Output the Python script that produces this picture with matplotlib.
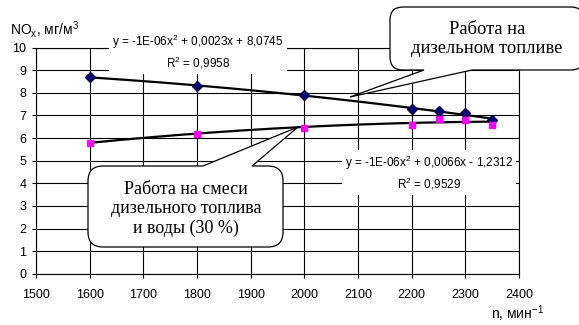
import numpy as np
import matplotlib
matplotlib.use("Agg")
import matplotlib.pyplot as plt
from matplotlib.path import Path
from matplotlib.patches import PathPatch

plt.rcParams['font.family'] = ['Liberation Sans', 'DejaVu Sans']
plt.rcParams['mathtext.default'] = 'regular'

# частота вращения и выбросы NOx
rpm = [1600, 1800, 2000, 2200, 2250, 2300, 2350]
nox_diesel = [8.7, 8.3, 7.9, 7.3, 7.2, 7.1, 6.8]
nox_water = [5.8, 6.2, 6.45, 6.6, 6.85, 6.8, 6.6]

eq_diesel = "y = -1E-06x$^2$ + 0,0023x + 8,0745\nR$^2$ = 0,9958"
eq_water = "y = -1E-06x$^2$ + 0,0066x - 1,2312\nR$^2$ = 0,9529"
txt_diesel = "Работа на\nдизельном топливе"
txt_water = "Работа на смеси\nдизельного топлива\nи воды (30 %)"

W, H = 579, 325
fig = plt.figure(figsize=(W / 100, H / 100), dpi=100)
ax = fig.add_axes([36 / W, 1 - 273.7 / H, 483 / W, 226 / H])

# полиномиальные тренды 2-й степени
xs = np.linspace(min(rpm), max(rpm), 200)
for y in (nox_diesel, nox_water):
    c = np.polyfit(rpm, y, 2)
    ax.plot(xs, np.polyval(c, xs), color='black', lw=1.6, zorder=3)

ax.plot(rpm, nox_diesel, 'D', color='#000080', mec='#000040', ms=5.5, zorder=4)
ax.plot(rpm, nox_water, 's', color='#FF00FF', mec='#FF00FF', ms=4.5, zorder=4)

ax.set_xlim(1500, 2400)
ax.set_ylim(0, 10)
ax.set_xticks(np.arange(1500, 2401, 100))
ax.set_yticks(np.arange(0, 11, 1))
ax.grid(True, color='black', lw=0.8)
ax.set_axisbelow(True)
ax.tick_params(labelsize=9, length=3, width=0.8, direction='out')
ax.tick_params(axis='x', pad=8)
ax.tick_params(axis='y', pad=4)
for s in ax.spines.values():
    s.set_linewidth(0.8)
    s.set_zorder(1)

# подписи уравнений трендов
ax.annotate(eq_diesel, xy=(198 / W, 1 - 52 / H), xycoords='figure fraction',
            ha='center', va='center', fontsize=8.5, linespacing=1.25,
            bbox=dict(boxstyle='square,pad=0.25', fc='white', ec='none'), zorder=5)
ax.annotate(eq_water, xy=(429 / W, 1 - 173 / H), xycoords='figure fraction',
            ha='center', va='center', fontsize=8.5, linespacing=1.25,
            bbox=dict(boxstyle='square,pad=0.25', fc='white', ec='none'), zorder=5)

fig.text(10 / W, 1 - 29 / H, "NO$_x$, мг/м$^3$", fontsize=10, va='center', ha='left')
fig.text(491 / W, 1 - 314 / H, "n, мин$^{-1}$", fontsize=10, va='center', ha='left')

# выноски поверх графика, координаты в пикселях
ov = fig.add_axes([0, 0, 1, 1], zorder=10)
ov.set_xlim(0, W)
ov.set_ylim(H, 0)
ov.axis('off')
ov.patch.set_alpha(0)


def bubble(x0, y0, x1, y1, r, side, b0, b1, tip):
    v = [(x0 + r, y0)]
    c = [Path.MOVETO]
    if side == 'top':
        v += [(b0, y0), tip, (b1, y0)]
        c += [Path.LINETO] * 3
    v += [(x1 - r, y0), (x1, y0), (x1, y0 + r), (x1, y1 - r), (x1, y1), (x1 - r, y1)]
    c += [Path.LINETO, Path.CURVE3, Path.CURVE3, Path.LINETO, Path.CURVE3, Path.CURVE3]
    if side == 'bottom':
        v += [(b1, y1), tip, (b0, y1)]
        c += [Path.LINETO] * 3
    v += [(x0 + r, y1), (x0, y1), (x0, y1 - r), (x0, y0 + r), (x0, y0), (x0 + r, y0)]
    c += [Path.LINETO, Path.CURVE3, Path.CURVE3, Path.LINETO, Path.CURVE3, Path.CURVE3]
    p = PathPatch(Path(v, c), fc='white', ec='black', lw=0.9, clip_on=False)
    ov.add_patch(p)


bubble(390, 7, 584, 70, 13, 'bottom', 424, 472, (350, 97))
ov.text(487, 39, txt_diesel, family=['Liberation Serif'], fontsize=13.3,
        ha='center', va='center', linespacing=1.15)

bubble(88, 166, 283, 247, 15, 'top', 203, 252, (298, 127))
ov.text(186, 209, txt_water, family=['Liberation Serif'], fontsize=13,
        ha='center', va='center', linespacing=1.15)

fig.savefig("out.png", dpi=100)
